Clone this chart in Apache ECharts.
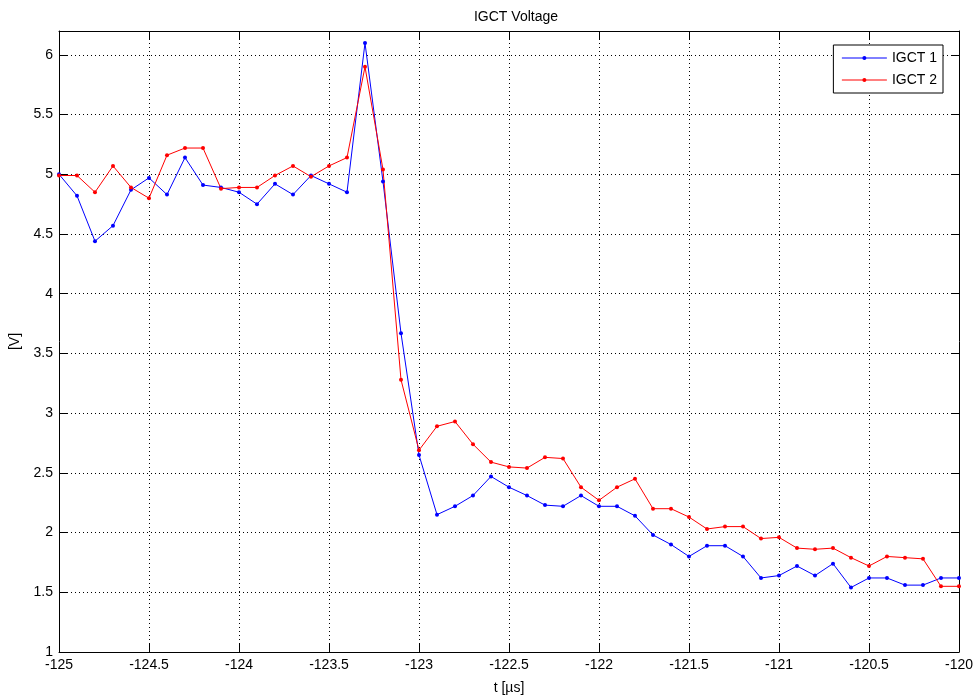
<!DOCTYPE html>
<html>
<head>
<meta charset="utf-8">
<script src="https://cdn.jsdelivr.net/npm/echarts@6/dist/echarts.min.js"></script>
<style>
  html, body { margin: 0; padding: 0; background: #fff; }
  #chart { width: 976px; height: 700px; }
</style>
</head>
<body>
<div id="chart"></div>
<script>
// Sample times in microseconds
const times = [
  -125.0, -124.9, -124.8, -124.7, -124.6, -124.5, -124.4, -124.3, -124.2, -124.1,
  -124.0, -123.9, -123.8, -123.7, -123.6, -123.5, -123.4, -123.3, -123.2, -123.1,
  -123.0, -122.9, -122.8, -122.7, -122.6, -122.5, -122.4, -122.3, -122.2, -122.1,
  -122.0, -121.9, -121.8, -121.7, -121.6, -121.5, -121.4, -121.3, -121.2, -121.1,
  -121.0, -120.9, -120.8, -120.7, -120.6, -120.5, -120.4, -120.3, -120.2, -120.1,
  -120.0
];

// Gate voltage of IGCT 1 [V]
const igct1 = [
  5.00, 4.82, 4.44, 4.57, 4.87, 4.97, 4.83, 5.14, 4.91, 4.89,
  4.85, 4.75, 4.92, 4.83, 4.99, 4.92, 4.85, 6.10, 4.94, 3.67,
  2.65, 2.15, 2.22, 2.31, 2.47, 2.38, 2.31, 2.23, 2.22, 2.31,
  2.22, 2.22, 2.14, 1.98, 1.90, 1.80, 1.89, 1.89, 1.80, 1.62,
  1.64, 1.72, 1.64, 1.74, 1.54, 1.62, 1.62, 1.56, 1.56, 1.62,
  1.62
];

// Gate voltage of IGCT 2 [V]
const igct2 = [
  4.99, 4.99, 4.85, 5.07, 4.89, 4.80, 5.16, 5.22, 5.22, 4.88,
  4.89, 4.89, 4.99, 5.07, 4.98, 5.07, 5.14, 5.90, 5.04, 3.28,
  2.69, 2.89, 2.93, 2.74, 2.59, 2.55, 2.54, 2.63, 2.62, 2.38,
  2.27, 2.38, 2.45, 2.20, 2.20, 2.13, 2.03, 2.05, 2.05, 1.95,
  1.96, 1.87, 1.86, 1.87, 1.79, 1.72, 1.80, 1.79, 1.78, 1.55,
  1.55
];

const seriesNames = ['IGCT 1', 'IGCT 2'];
const seriesColors = ['#0000ff', '#ff0000'];

const FONT = 'Liberation Sans, Arial, sans-serif';
const FS = 14;

const pairs = (ys) => times.map((t, i) => [t, ys[i]]);

const gridLine = { show: true, lineStyle: { color: '#000', width: 1, type: [1, 3] } };
const axisLineStyle = { show: true, lineStyle: { color: '#000', width: 1 } };
const tickStyle = { show: true, inside: true, length: 8, lineStyle: { color: '#000' } };
const labelStyle = { color: '#000', fontFamily: FONT, fontSize: FS };

const chart = echarts.init(document.getElementById('chart'), null, { renderer: 'canvas' });

chart.setOption({
  backgroundColor: '#fff',
  animation: false,
  title: {
    text: 'IGCT Voltage',
    left: 511,
    textAlign: 'center',
    top: 5,
    textStyle: { fontFamily: FONT, fontSize: FS, fontWeight: 'normal', color: '#000' }
  },
  legend: {
    right: 33,
    top: 45,
    orient: 'vertical',
    data: seriesNames,
    backgroundColor: '#fff',
    borderColor: '#000',
    borderWidth: 1,
    padding: [6, 6, 6, 8],
    itemGap: 8,
    itemWidth: 45,
    itemHeight: 5,
    lineStyle: { width: 1 },
    textStyle: { fontFamily: FONT, fontSize: FS, color: '#000' }
  },
  grid: { left: 58, right: 13, top: 31, bottom: 46 },
  xAxis: [
    {
      type: 'value',
      min: -125, max: -120, interval: 0.5,
      name: 't [µs]',
      nameLocation: 'middle',
      nameGap: 29,
      nameTextStyle: labelStyle,
      axisLine: axisLineStyle,
      axisTick: tickStyle,
      axisLabel: Object.assign({ margin: 6 }, labelStyle),
      splitLine: gridLine
    },
    {
      type: 'value', position: 'top',
      min: -125, max: -120, interval: 0.5,
      axisLine: axisLineStyle,
      axisTick: tickStyle,
      axisLabel: { show: false },
      splitLine: { show: false }
    }
  ],
  yAxis: [
    {
      type: 'value',
      min: 1, max: 6.2, interval: 0.5,
      name: '[V]',
      nameLocation: 'middle',
      nameGap: 37,
      nameRotate: 90,
      nameTextStyle: labelStyle,
      axisLine: axisLineStyle,
      axisTick: tickStyle,
      axisLabel: Object.assign({ margin: 6, showMaxLabel: false }, labelStyle),
      splitLine: gridLine
    },
    {
      type: 'value', position: 'right',
      min: 1, max: 6.2, interval: 0.5,
      axisLine: axisLineStyle,
      axisTick: tickStyle,
      axisLabel: { show: false },
      splitLine: { show: false }
    }
  ],
  series: [igct1, igct2].map((ys, k) => ({
    name: seriesNames[k],
    type: 'line',
    xAxisIndex: 0,
    yAxisIndex: 0,
    data: pairs(ys),
    symbol: 'circle',
    symbolSize: 4,
    showSymbol: true,
    color: seriesColors[k],
    itemStyle: { color: seriesColors[k] },
    lineStyle: { color: seriesColors[k], width: 1 },
    emphasis: { disabled: true }
  }))
});
</script>
</body>
</html>
